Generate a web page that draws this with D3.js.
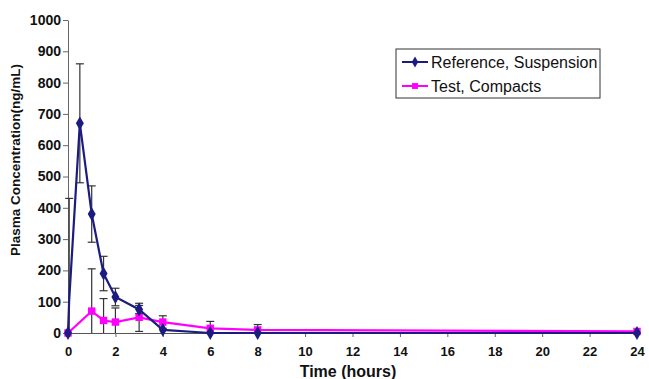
<!DOCTYPE html>
<html>
<head>
<meta charset="utf-8">
<script src="https://cdn.jsdelivr.net/npm/d3@7"></script>
<style>
  body { margin: 0; background: #fff; }
  text { font-family: Arial, "Liberation Sans", sans-serif; font-weight: bold; }
</style>
</head>
<body>
<svg id="chart" width="649" height="379"></svg>
<script>
// sampling times (hours)
var refTimes = [0, 0.05, 0.5, 1, 1.5, 2, 3, 4, 6, 8, 24];
var refMeans = [0, 105, 670, 380, 190, 115, 75, 10, 0, 0, 0];
var refSD    = [0, 325, 190, 90, 55, 28, 13, 0, 0, 0, 0];

var testTimes = [0, 1, 1.5, 2, 3, 4, 6, 8, 24];
var testMeans = [0, 70, 40, 35, 50, 35, 15, 10, 5];
var testSD    = [0, 135, 70, 45, 45, 20, 22, 17, 0];

var xTicks = [0, 2, 4, 6, 8, 10, 12, 14, 16, 18, 20, 22, 24];
var yTicks = [0, 100, 200, 300, 400, 500, 600, 700, 800, 900, 1000];

var seriesNames = ["Reference, Suspension", "Test, Compacts"];
var seriesColors = ["#1c1c80", "#ff00ff"];

var svg = d3.select("#chart");
var x = d3.scaleLinear().domain([0, 24]).range([68, 637]);
var y = d3.scaleLinear().domain([0, 1000]).range([333, 20]);

// y axis
var yAxis = svg.append("g")
  .attr("transform", "translate(68,0)")
  .call(d3.axisLeft(y).tickValues(yTicks).tickFormat(d3.format("d")).tickSize(5).tickSizeOuter(0));
yAxis.select(".domain").attr("stroke", "#666");
yAxis.selectAll(".tick line").attr("stroke", "#666");
yAxis.selectAll("text").attr("font-size", 14).attr("fill", "#111").attr("x", -7);

// x axis
var xAxis = svg.append("g")
  .attr("transform", "translate(0,333)")
  .call(d3.axisBottom(x).tickValues(xTicks).tickSize(4).tickSizeOuter(0));
xAxis.select(".domain").attr("stroke", "#555");
xAxis.selectAll(".tick line").attr("stroke", "#666");
xAxis.selectAll("text").attr("font-size", 13).attr("fill", "#111").attr("dy", "1.2em");

svg.append("text")
  .attr("x", 348).attr("y", 377)
  .attr("text-anchor", "middle").attr("font-size", 16).attr("fill", "#111")
  .text("Time (hours)");

svg.append("text")
  .attr("transform", "translate(20,160) rotate(-90)")
  .attr("text-anchor", "middle").attr("font-size", 13.5).attr("fill", "#111")
  .text("Plasma Concentration(ng/mL)");

var series = [
  { t: refTimes, m: refMeans, sd: refSD, color: seriesColors[0], shape: d3.symbolDiamond },
  { t: testTimes, m: testMeans, sd: testSD, color: seriesColors[1], shape: d3.symbolSquare }
];

// error bars
series.forEach(function (s) {
  var pts = s.t.map(function (t, i) { return { t: t, m: s.m[i], sd: s.sd[i] }; })
    .filter(function (d) { return d.sd > 0; });
  var g = svg.append("g").attr("stroke", "#333").attr("stroke-width", 1.2);
  pts.forEach(function (d) {
    var lo = Math.max(0, d.m - d.sd), hi = d.m + d.sd;
    g.append("line").attr("x1", x(d.t)).attr("x2", x(d.t)).attr("y1", y(lo)).attr("y2", y(hi));
    g.append("line").attr("x1", x(d.t) - 4).attr("x2", x(d.t) + 4).attr("y1", y(hi)).attr("y2", y(hi));
    if (d.m - d.sd > 0)
      g.append("line").attr("x1", x(d.t) - 4).attr("x2", x(d.t) + 4).attr("y1", y(lo)).attr("y2", y(lo));
  });
});

// lines and markers (test first so reference sits on top where they overlap)
[series[1], series[0]].forEach(function (s) {
  var pts = s.t.map(function (t, i) { return [t, s.m[i]]; });
  svg.append("path")
    .datum(pts)
    .attr("fill", "none")
    .attr("stroke", s.color)
    .attr("stroke-width", 2.2)
    .attr("d", d3.line().x(function (d) { return x(d[0]); }).y(function (d) { return y(d[1]); }));
  svg.append("g").selectAll("path")
    .data(pts.filter(function (d, i) { return s.t[i] !== 0.05; }))
    .enter().append("path")
    .attr("transform", function (d) { return "translate(" + x(d[0]) + "," + y(d[1]) + ")"; })
    .attr("d", d3.symbol().type(s.shape).size(55))
    .attr("fill", s.color);
});

// legend
var lg = svg.append("g").attr("transform", "translate(396,49)");
lg.append("rect").attr("width", 204).attr("height", 49)
  .attr("fill", "#fff").attr("stroke", "#333").attr("stroke-width", 1);
series.forEach(function (s, i) {
  var yy = 13 + i * 24;
  lg.append("line").attr("x1", 6).attr("x2", 32).attr("y1", yy).attr("y2", yy)
    .attr("stroke", s.color).attr("stroke-width", 2);
  lg.append("path").attr("transform", "translate(19," + yy + ")")
    .attr("d", d3.symbol().type(s.shape).size(35)).attr("fill", s.color);
  lg.append("text").attr("x", 35).attr("y", yy + 5.5)
    .attr("font-size", 16).attr("fill", "#111").style("font-weight", "normal")
    .text(seriesNames[i]);
});
</script>
</body>
</html>
